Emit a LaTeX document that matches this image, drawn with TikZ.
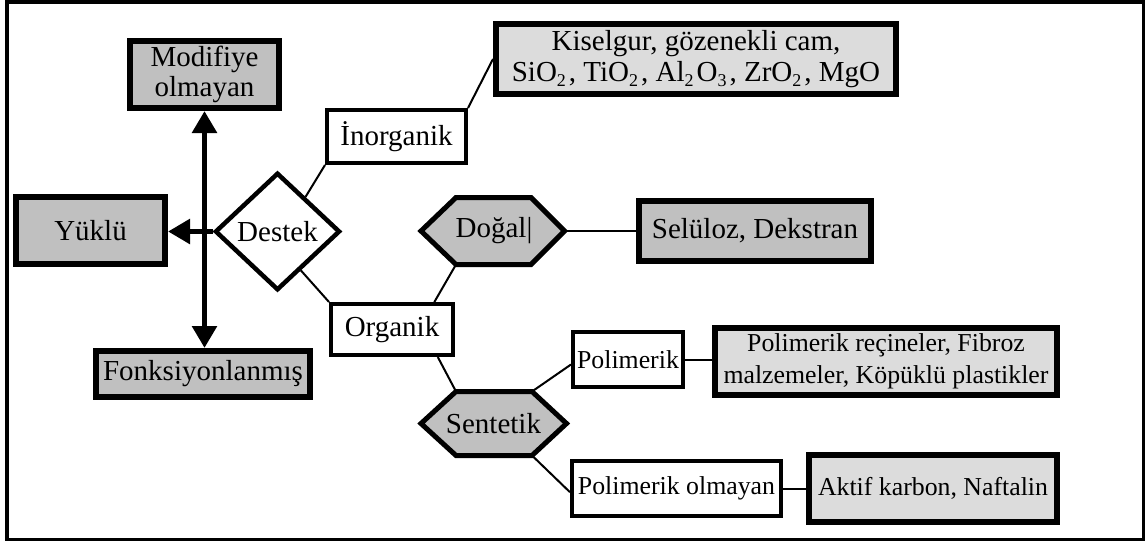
\documentclass[tikz,border=0pt]{standalone}
\usepackage{fontspec}
\setmainfont{Liberation Serif}
\usetikzlibrary{shapes.geometric,arrows.meta,calc}

\definecolor{boxdark}{HTML}{C0C0C0}
\definecolor{boxlight}{HTML}{DCDCDC}

% text sizes
\newcommand\bigtext{\fontsize{29}{30.5}\selectfont}
\newcommand\smalltext{\fontsize{25.8}{32}\selectfont}
% lowered index for chemical formulas
\newcommand\chemsub[1]{\raisebox{-0.2em}{\fontsize{18}{18}\selectfont #1}\kern3pt}

\tikzset{
  darkbox/.style={draw, line width=6pt, fill=boxdark, inner sep=0pt, align=center, font=\bigtext},
  lightbox/.style={draw, line width=6pt, fill=boxlight, inner sep=0pt, align=center, font=\bigtext},
  whitebox/.style={draw, line width=4pt, fill=white, inner sep=0pt, align=center, font=\bigtext},
  hexline/.style={draw, line width=5pt, fill=boxdark, line join=miter},
  hextext/.style={inner sep=0pt, font=\bigtext},
  decision/.style={draw, diamond, line width=4.5pt, fill=white, inner sep=0pt, font=\bigtext, line join=miter},
  link/.style={line width=2pt},
  bigarrow/.style={line width=5.5pt, -{Triangle[length=22pt,width=24pt]}},
}

\begin{document}
\begin{tikzpicture}[x=1pt,y=-1pt]
\useasboundingbox (0,0) rectangle (1146,541);

% outer frame
\draw[line width=3.5pt] (6.75,1.75) rectangle (1143.25,539.25);

% left part: support and its three forms
\node[decision, minimum width=125pt, minimum height=117.5pt] (destek) at (277.5,231.5) {Destek};
\node[darkbox, minimum width=149pt, minimum height=67pt] (modif) at (204.5,74.5) {Modifiye\\olmayan};
\node[darkbox, minimum width=149pt, minimum height=67pt] (yuklu) at (90.5,230.5) {Yüklü};
\node[darkbox, minimum width=214pt, minimum height=46pt] (fonk) at (203,374) {Fonksiyonlanmış};

% inorganic branch
\node[whitebox, minimum width=139pt, minimum height=53pt] (inorg) at (396.5,136.5) {İnorganik};
\node[lightbox, minimum width=400pt, minimum height=70pt] (kisel) at (696,59)
  {Kiselgur, gözenekli cam,\\SiO\chemsub{2}, TiO\chemsub{2}, Al\chemsub{2}O\chemsub{3}, ZrO\chemsub{2}, MgO};

% organic branch
\node[whitebox, minimum width=122pt, minimum height=51pt] (organik) at (392,329.5) {Organik};

% natural: hexagon outline
\coordinate (dogal-w)  at (421,231);
\coordinate (dogal-nw) at (456,197.5);
\coordinate (dogal-ne) at (531,197.5);
\coordinate (dogal-e)  at (564.5,231);
\coordinate (dogal-se) at (531,264.5);
\coordinate (dogal-sw) at (456,264.5);
\draw[hexline] (dogal-w) -- (dogal-nw) -- (dogal-ne) -- (dogal-e) -- (dogal-se) -- (dogal-sw) -- cycle;
\node[hextext] (dogal) at (494,231) {Doğal|};
\node[darkbox, minimum width=232pt, minimum height=60pt] (selul) at (755,231) {Selüloz, Dekstran};

% synthetic: hexagon outline
\coordinate (sent-w)  at (421,423.5);
\coordinate (sent-nw) at (456,391.5);
\coordinate (sent-ne) at (532,391.5);
\coordinate (sent-e)  at (566.5,423.5);
\coordinate (sent-se) at (532,455.5);
\coordinate (sent-sw) at (456,455.5);
\draw[hexline] (sent-w) -- (sent-nw) -- (sent-ne) -- (sent-e) -- (sent-se) -- (sent-sw) -- cycle;
\node[hextext] (sentetik) at (493.5,423.5) {Sentetik};

\node[whitebox, font=\smalltext, minimum width=110pt, minimum height=55pt] (polim) at (628,359.5) {Polimerik};
\node[lightbox, font=\smalltext, minimum width=342pt, minimum height=67pt] (polrec) at (886,361.5)
  {Polimerik reçineler, Fibroz\\malzemeler, Köpüklü plastikler};
\node[whitebox, font=\smalltext, minimum width=209pt, minimum height=55pt] (pololm) at (676.5,488.5) {Polimerik olmayan};
\node[lightbox, font=\smalltext, minimum width=248pt, minimum height=67pt] (aktif) at (933,488.5) {Aktif karbon, Naftalin};

% arrows of the support forms
\draw[bigarrow, {Triangle[length=22pt,width=24pt]}-{Triangle[length=22pt,width=24pt]}]
  (modif.south) -- (modif.south |- fonk.north);
\draw[bigarrow] (destek.west) -- (destek.west -| yuklu.east);

% connectors
\draw[link] (destek.51) -- (inorg.south west);
\draw[link] (inorg.north east) -- (kisel.west);
\draw[link] (destek.-59) -- (organik.north west);
\draw[link] (organik.33) -- (dogal-sw);
\draw[link] (dogal-e) -- (selul.west);
\draw[link] (organik.-31) -- (sent-nw);
\draw[link] (sent-ne) -- (polim.-175);
\draw[link] (sent-se) -- (pololm.-178);
\draw[link] (polim.east) -- (polim.east -| polrec.west);
\draw[link] (pololm.east) -- (aktif.west);
\end{tikzpicture}
\end{document}
